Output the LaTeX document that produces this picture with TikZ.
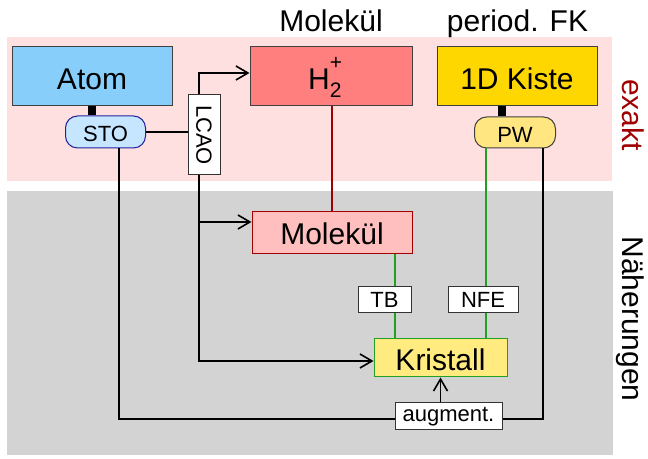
\documentclass[tikz,border=0pt]{standalone}
\usepackage{fontspec}
\setmainfont{Liberation Sans}
\usetikzlibrary{arrows.meta}
\definecolor{exaktbg}{HTML}{FFE0E0}
\definecolor{naehbg}{HTML}{D3D3D3}
\definecolor{exaktred}{HTML}{A00000}
\definecolor{atomblue}{HTML}{87CEFA}
\definecolor{stoblue}{HTML}{C6E6FF}
\definecolor{stoline}{HTML}{2020A0}
\definecolor{hzweirot}{HTML}{FF7F7F}
\definecolor{molrosa}{HTML}{FFBFBF}
\definecolor{kistegelb}{HTML}{FFD700}
\definecolor{pwgelb}{HTML}{FFE680}
\definecolor{kristgelb}{HTML}{FFEB80}
\definecolor{tbgruen}{HTML}{22A022}
% Index unten/oben uebereinander, ohne die Zeilenhoehe zu aendern
\newcommand\hochtief[2]{\smash{\rlap{\raisebox{-4pt}{\fontsize{10.5}{12}\selectfont #1}}\raisebox{10pt}{\fontsize{10.5}{12}\selectfont #2}}}

\begin{document}
\begin{tikzpicture}[x=0.5pt,y=-0.5pt,
  box/.style={draw=black!75,line width=0.5pt,inner sep=0pt,text height=13pt,text depth=0pt,font=\fontsize{15}{18}\selectfont},
  tag/.style={draw=black!80,fill=white,line width=0.5pt,inner sep=0pt,font=\fontsize{11}{13}\selectfont},
  pill/.style={tag,rounded corners=6pt,text height=9.8pt,text depth=0pt},
  big/.style={font=\fontsize{15}{18}\selectfont},
  link/.style={line width=0.8pt},
  pfeil/.style={link,-{Straight Barb[length=6pt,width=7pt]}},
  stiel/.style={line width=4pt}]
\useasboundingbox (0,0) rectangle (648,459);
% Bereiche: exakt oben, Naeherungen unten
\fill[exaktbg] (7,37) rectangle (612,181);
\fill[naehbg] (7,191) rectangle (613,455);
\node[big,rotate=-90,anchor=base,text=exaktred] (exakt) at (622,115) {exakt};
\node[big,rotate=-90,anchor=base] (naeh) at (622,319) {Näherungen};

% Spaltenkoepfe
\node[big,anchor=base] (kopfmol) at (331,32) {Molekül};
\node[big,anchor=base] (kopffk) at (517.5,32) {period. FK};

% exakte Systeme
\node[box,fill=atomblue,minimum width=80pt,minimum height=29.5pt] (atom) at (92,76.5) {Atom};
\node[box,fill=hzweirot,minimum width=81pt,minimum height=29.5pt] (h2) at (331,76.5) {H\hochtief{2}{+}\hphantom{\fontsize{10.5}{12}\selectfont 2}};
\node[box,fill=kistegelb,minimum width=80pt,minimum height=29.5pt] (kiste) at (517,76.5) {1D Kiste};
\node[pill,draw=stoline,fill=stoblue,minimum width=40pt,minimum height=16pt] (sto) at (105.5,132) {STO};
\node[pill,draw=black!75,fill=pwgelb,minimum width=40.5pt,minimum height=15.5pt] (pw) at (515,132.5) {PW};
\node[tag,rotate=-90,minimum width=40pt,minimum height=16pt] (lcao) at (204,135) {LCAO};

% Naeherungen
\node[box,draw=exaktred,fill=molrosa,minimum width=80pt,minimum height=21pt,text height=12pt] (molekuel) at (332,233) {Molekül};
\node[tag,minimum width=26.5pt,minimum height=13pt] (tb) at (384.5,300) {TB};
\node[tag,minimum width=35pt,minimum height=13pt] (nfe) at (483,300) {NFE};
\node[box,draw=tbgruen,fill=kristgelb,minimum width=66.5pt,minimum height=19pt] (kristall) at (440.5,358) {Kristall};
\node[tag,minimum width=53.5pt,minimum height=13.5pt] (augment) at (448.5,416.5) {augment.};

% Knickpunkte
\coordinate (bend) at (199,73);
\coordinate (zumol) at (199,222);
\coordinate (zukr) at (199,361);
\coordinate (stofuss) at (119,419);
\coordinate (pwfuss) at (543,419);

% Verbindungen
\draw[stiel] (atom.south) -- (atom.south |- sto.north);
\draw[stiel] ([xshift=-7.5pt]kiste.south) -- ([xshift=-7.5pt]kiste.south |- pw.north);
\draw[link] (sto.east) -- (sto.east -| lcao.south);
\draw[pfeil] (lcao.west -| bend) -- (bend) -- (bend -| h2.west);
\draw[pfeil] (lcao.east -| bend) -- (zukr) -- (zukr -| kristall.west);
\draw[pfeil] (zumol) -- (zumol -| molekuel.west);
\draw[link,exaktred] (h2.south -| molekuel.north) -- (molekuel.north);
\draw[link,tbgruen] (molekuel.south -| 395,0) -- (tb.north -| 395,0);
\draw[link,tbgruen] (tb.south -| 395,0) -- (kristall.north -| 395,0);
\draw[link,tbgruen] (pw.south -| 486,0) -- (nfe.north -| 486,0);
\draw[link,tbgruen] (nfe.south -| 486,0) -- (kristall.north -| 486,0);
\draw[link] (sto.south -| stofuss) -- (stofuss) -- (stofuss -| augment.west);
\draw[link] (pw.south -| pwfuss) -- (pwfuss) -- (pwfuss -| augment.east);
\draw[pfeil] (kristall.south |- augment.north) -- (kristall.south);
\end{tikzpicture}
\end{document}
